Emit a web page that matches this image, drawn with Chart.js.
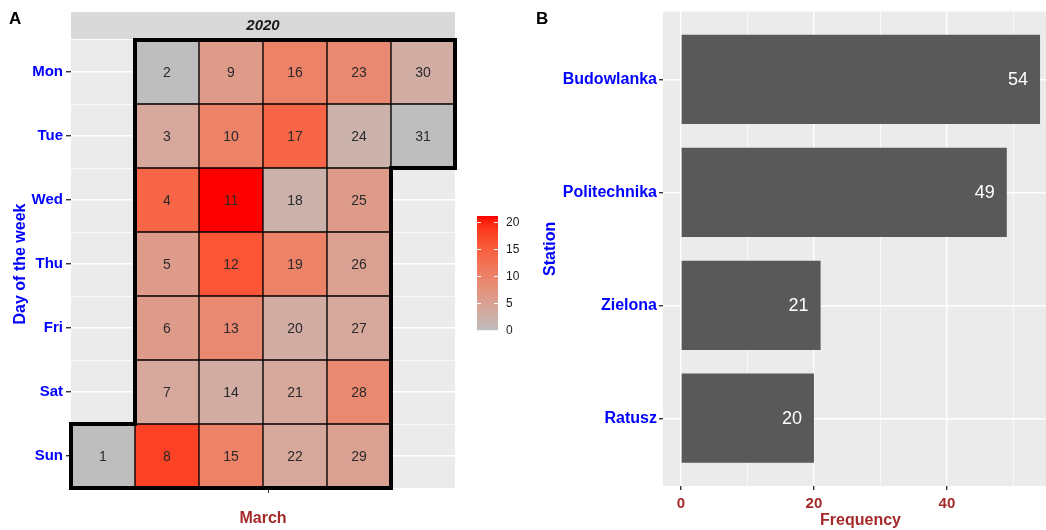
<!DOCTYPE html>
<html>
<head>
<meta charset="utf-8">
<script src="https://cdn.jsdelivr.net/npm/chart.js@4.4.1/dist/chart.umd.min.js"></script>
<style>
  html, body { margin: 0; padding: 0; background: #fff; overflow: hidden; }
  #wrap { position: relative; width: 1046px; height: 530px; overflow: hidden; }
  canvas { position: absolute; top: 0; }
</style>
</head>
<body>
<div id="wrap">
  <canvas id="calendar" width="530" height="530" style="left:0"></canvas>
  <canvas id="stations" width="528" height="530" style="left:530px"></canvas>
</div>
<script>
// panel A: March 2020 calendar
var dayNames = ['Mon', 'Tue', 'Wed', 'Thu', 'Fri', 'Sat', 'Sun'];
var marchDays = [1, 2, 3, 4, 5, 6, 7, 8, 9, 10, 11, 12, 13, 14, 15, 16,
                 17, 18, 19, 20, 21, 22, 23, 24, 25, 26, 27, 28, 29, 30, 31];
var marchCounts = [0, 0, 4, 14, 6, 6, 4, 18, 6, 10, 21, 16, 9, 3, 10, 10,
                   14, 2, 10, 3, 4, 4, 9, 2, 6, 5, 4, 9, 5, 3, 0];
var legendTicks = [0, 5, 10, 15, 20];

// panel B: stations
var stationNames = ['Budowlanka', 'Politechnika', 'Zielona', 'Ratusz'];
var stationCounts = [54, 49, 21, 20];
var freqTicks = [0, 10, 20, 30, 40, 50];

var FONT = '"Liberation Sans", Arial, sans-serif';
Chart.defaults.font.family = FONT;

// ggplot-like gradient (interpolated in CIELAB)
function hexRgb(h) { return [1, 3, 5].map(function (i) { return parseInt(h.substr(i, 2), 16); }); }
function toLab(rgb) {
    var c = rgb.map(function (v) { v /= 255; return v <= 0.04045 ? v / 12.92 : Math.pow((v + 0.055) / 1.055, 2.4); });
    var X = (0.4124 * c[0] + 0.3576 * c[1] + 0.1805 * c[2]) / 0.95047;
    var Y = 0.2126 * c[0] + 0.7152 * c[1] + 0.0722 * c[2];
    var Z = (0.0193 * c[0] + 0.1192 * c[1] + 0.9505 * c[2]) / 1.08883;
    var f = function (t) { return t > 0.008856 ? Math.cbrt(t) : 7.787 * t + 16 / 116; };
    return [116 * f(Y) - 16, 500 * (f(X) - f(Y)), 200 * (f(Y) - f(Z))];
}
function fromLab(lab) {
    var fy = (lab[0] + 16) / 116, fx = fy + lab[1] / 500, fz = fy - lab[2] / 200;
    var inv = function (t) { return t * t * t > 0.008856 ? t * t * t : (t - 16 / 116) / 7.787; };
    var X = inv(fx) * 0.95047, Y = inv(fy), Z = inv(fz) * 1.08883;
    var lin = [3.2406 * X - 1.5372 * Y - 0.4986 * Z,
               -0.9689 * X + 1.8758 * Y + 0.0415 * Z,
               0.0557 * X - 0.2040 * Y + 1.0570 * Z];
    return 'rgb(' + lin.map(function (v) {
        v = v <= 0.0031308 ? 12.92 * v : 1.055 * Math.pow(v, 1 / 2.4) - 0.055;
        return Math.round(Math.min(1, Math.max(0, v)) * 255);
    }).join(',') + ')';
}
var lowLab = toLab(hexRgb('#BEBEBE')), highLab = toLab(hexRgb('#FF0000'));
var countMax = Math.max.apply(null, marchCounts);
function fillFor(v) {
    var t = v / countMax;
    return fromLab(lowLab.map(function (l, i) { return l + (highLab[i] - l) * t; }));
}

var firstWd = (new Date(2020, 2, 1).getDay() + 6) % 7;
var tiles = marchDays.map(function (d, i) {
    var wd = (new Date(2020, 2, d).getDay() + 6) % 7;
    return { day: d, count: marchCounts[i], row: wd + 1, col: Math.floor((d - 1 + firstWd) / 7) + 1 };
});
var monthTick = tiles.reduce(function (s, t) { return s + t.col; }, 0) / tiles.length;
var rowTicks = [];
dayNames.forEach(function (n, i) { rowTicks.push(i + 1); if (i < dayNames.length - 1) rowTicks.push(i + 1.5); });

var calendarDecor = {
    id: 'calendarDecor',
    beforeDraw: function (chart) {
        var a = chart.chartArea, c = chart.ctx;
        c.save();
        c.fillStyle = '#EBEBEB';
        c.fillRect(a.left, a.top, a.right - a.left, a.bottom - a.top);
        c.fillStyle = '#D9D9D9';
        c.fillRect(a.left, a.top - 28, a.right - a.left, 27);
        c.fillStyle = '#1A1A1A';
        c.font = 'italic bold 15px ' + FONT;
        c.textAlign = 'center'; c.textBaseline = 'middle';
        c.fillText('2020', (a.left + a.right) / 2, a.top - 14);
        c.fillStyle = '#000';
        c.font = 'bold 17px ' + FONT;
        c.textAlign = 'left';
        c.fillText('A', 9, 19);
        c.restore();
    },
    afterDatasetsDraw: function (chart) {
        var c = chart.ctx, xs = chart.scales.x, ys = chart.scales.y;
        var meta = chart.getDatasetMeta(0);
        c.save();
        c.fillStyle = '#2B2B2B';
        c.font = '14px ' + FONT;
        c.textAlign = 'center'; c.textBaseline = 'middle';
        meta.data.forEach(function (el, i) {
            var p = el.getCenterPoint();
            c.fillText(String(tiles[i].day), p.x, p.y + 1);
        });
        // thick month outline: every tile edge without a neighbour
        var has = {};
        tiles.forEach(function (t) { has[t.col + ',' + t.row] = true; });
        c.strokeStyle = '#000'; c.lineWidth = 4; c.lineCap = 'square';
        c.beginPath();
        tiles.forEach(function (t) {
            var x0 = xs.getPixelForValue(t.col - 0.5), x1 = xs.getPixelForValue(t.col + 0.5);
            var y0 = ys.getPixelForValue(t.row - 0.5), y1 = ys.getPixelForValue(t.row + 0.5);
            if (!has[t.col + ',' + (t.row - 1)]) { c.moveTo(x0, y0); c.lineTo(x1, y0); }
            if (!has[t.col + ',' + (t.row + 1)]) { c.moveTo(x0, y1); c.lineTo(x1, y1); }
            if (!has[(t.col - 1) + ',' + t.row]) { c.moveTo(x0, y0); c.lineTo(x0, y1); }
            if (!has[(t.col + 1) + ',' + t.row]) { c.moveTo(x1, y0); c.lineTo(x1, y1); }
        });
        c.stroke();
        c.restore();
    },
    afterDraw: function (chart) {
        // colour bar legend
        var c = chart.ctx, lx = 477, lw = 21, ly0 = 330, unit = 5.4;
        c.save();
        for (var px = 0; px < countMax * unit; px++) {
            c.fillStyle = fillFor(Math.min(countMax, (px + 0.5) / unit));
            c.fillRect(lx, ly0 - px - 1, lw, 1.2);
        }
        c.strokeStyle = '#FFFFFF'; c.lineWidth = 1;
        c.fillStyle = '#1A1A1A'; c.font = '12px ' + FONT;
        c.textAlign = 'left'; c.textBaseline = 'middle';
        legendTicks.forEach(function (v) {
            var y = Math.round(ly0 - v * unit) + 0.5;
            if (v > 0) {
                c.beginPath();
                c.moveTo(lx, y); c.lineTo(lx + 4, y);
                c.moveTo(lx + lw - 4, y); c.lineTo(lx + lw, y);
                c.stroke();
            }
            c.fillText(String(v), lx + 29, y);
        });
        c.restore();
    }
};

new Chart(document.getElementById('calendar').getContext('2d'), {
    type: 'bar',
    data: {
        datasets: [{
            data: tiles.map(function (t) { return { x: t.col, y: [t.row - 0.5, t.row + 0.5] }; }),
            backgroundColor: tiles.map(function (t) { return fillFor(t.count); }),
            borderColor: '#000000', borderWidth: 1, borderSkipped: false,
            barPercentage: 1, categoryPercentage: 1
        }]
    },
    options: {
        responsive: false, animation: false,
        layout: { padding: { top: 40, right: 75, left: 0, bottom: 0 } },
        plugins: { legend: { display: false }, tooltip: { enabled: false } },
        scales: {
            x: {
                type: 'linear', min: 0.5, max: 6.5, offset: false,
                afterBuildTicks: function (s) { s.ticks = [{ value: monthTick }]; },
                afterFit: function (s) { s.height = 42; },
                ticks: { autoSkip: false, maxRotation: 0, callback: function () { return ''; } },
                grid: { offset: false, drawOnChartArea: false, tickLength: 5, tickColor: '#333333' },
                border: { display: false },
                title: { display: true, text: 'March', color: '#A52A2A',
                         font: { size: 16, weight: 'bold', lineHeight: 1 }, padding: { top: 0, bottom: 3 } }
            },
            y: {
                type: 'linear', min: 0.5, max: 7.5, reverse: true, offset: false,
                afterBuildTicks: function (s) { s.ticks = rowTicks.map(function (v) { return { value: v }; }); },
                afterFit: function (s) { s.width = 71; },
                ticks: {
                    autoSkip: false, padding: 3, color: '#0000FF',
                    font: { size: 15, weight: 'bold' },
                    callback: function (v) { return Number.isInteger(v) ? dayNames[v - 1] : ''; }
                },
                grid: {
                    offset: false, color: '#FFFFFF', tickLength: 5,
                    lineWidth: function (ctx) { return ctx.tick && Number.isInteger(ctx.tick.value) ? 1.4 : 0.7; },
                    tickColor: function (ctx) { return ctx.tick && Number.isInteger(ctx.tick.value) ? '#333333' : 'rgba(0,0,0,0)'; }
                },
                border: { display: false },
                title: { display: true, text: 'Day of the week', color: '#0000FF',
                         font: { size: 16, weight: 'bold' }, padding: { top: 11, bottom: 0 } }
            }
        }
    },
    plugins: [calendarDecor]
});

var stationDecor = {
    id: 'stationDecor',
    beforeDraw: function (chart) {
        var a = chart.chartArea, c = chart.ctx;
        c.save();
        c.fillStyle = '#EBEBEB';
        c.fillRect(a.left, a.top, a.right - a.left, a.bottom - a.top);
        c.fillStyle = '#000';
        c.font = 'bold 17px ' + FONT;
        c.textAlign = 'left'; c.textBaseline = 'middle';
        c.fillText('B', 6, 19);
        c.restore();
    },
    afterDatasetsDraw: function (chart) {
        var c = chart.ctx, meta = chart.getDatasetMeta(0);
        c.save();
        c.fillStyle = '#FFFFFF';
        c.font = '18px ' + FONT;
        c.textAlign = 'right'; c.textBaseline = 'middle';
        meta.data.forEach(function (el, i) {
            c.fillText(String(stationCounts[i]), el.x - 12, el.y + 1);
        });
        c.restore();
    }
};

new Chart(document.getElementById('stations').getContext('2d'), {
    type: 'bar',
    data: {
        datasets: [{
            data: stationCounts.map(function (v, i) { return { x: v, y: i }; }),
            backgroundColor: '#595959',
            barPercentage: 0.79, categoryPercentage: 1
        }]
    },
    options: {
        indexAxis: 'y',
        responsive: false, animation: false,
        layout: { padding: { top: 11, right: 0, left: 0, bottom: 0 } },
        plugins: { legend: { display: false }, tooltip: { enabled: false } },
        scales: {
            x: {
                type: 'linear', min: -2.7, max: 56.7, offset: false,
                afterBuildTicks: function (s) { s.ticks = freqTicks.map(function (v) { return { value: v }; }); },
                afterFit: function (s) { s.height = 44; },
                ticks: {
                    autoSkip: false, maxRotation: 0, padding: 5, color: '#A52A2A',
                    font: { size: 15, weight: 'bold' },
                    callback: function (v) { return v % 20 === 0 ? String(v) : ''; }
                },
                grid: {
                    offset: false, color: '#FFFFFF', tickLength: 4,
                    lineWidth: function (ctx) { return ctx.tick && ctx.tick.value % 20 === 0 ? 1.4 : 0.7; },
                    tickColor: function (ctx) { return ctx.tick && ctx.tick.value % 20 === 0 ? '#333333' : 'rgba(0,0,0,0)'; }
                },
                border: { display: false },
                title: { display: true, text: 'Frequency', color: '#A52A2A',
                         font: { size: 16, weight: 'bold', lineHeight: 1 }, padding: { top: 0, bottom: 1 } }
            },
            y: {
                type: 'linear', min: -0.6, max: stationNames.length - 0.4, reverse: true, offset: false,
                afterBuildTicks: function (s) { s.ticks = stationNames.map(function (n, i) { return { value: i }; }); },
                afterFit: function (s) { s.width = 133; },
                ticks: {
                    autoSkip: false, padding: 2, color: '#0000FF',
                    font: { size: 16, weight: 'bold' },
                    callback: function (v) { return stationNames[v]; }
                },
                grid: { offset: false, color: '#FFFFFF', lineWidth: 1.4, tickLength: 4, tickColor: '#333333' },
                border: { display: false },
                title: { display: true, text: 'Station', color: '#0000FF',
                         font: { size: 16, weight: 'bold' }, padding: { top: 11.4, bottom: 0 } }
            }
        }
    },
    plugins: [stationDecor]
});
</script>
</body>
</html>
